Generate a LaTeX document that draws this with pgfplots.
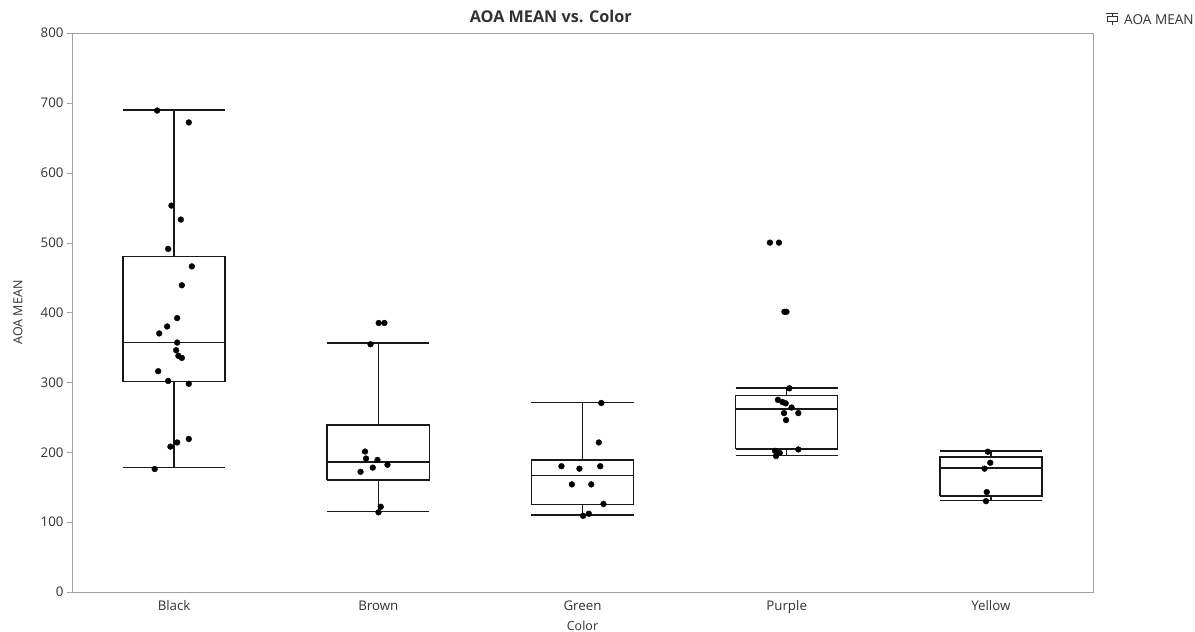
\documentclass[border=0pt]{standalone}
\usepackage{fontspec}
\setmainfont{Open Sans}
\usepackage{pgfplots}
\pgfplotsset{compat=1.18}
\definecolor{axgray}{RGB}{160,160,160}
\definecolor{txt}{RGB}{50,50,50}
% box: pos, lower whisker, q1, median, q3, upper whisker
\newcommand{\mybox}[6]{%
  \edef\temp{\noexpand\addplot[boxline] coordinates {(#1-0.25,#3) (#1+0.25,#3) (#1+0.25,#5) (#1-0.25,#5) (#1-0.25,#3)};
  \noexpand\addplot[boxline] coordinates {(#1-0.25,#4) (#1+0.25,#4)};
  \noexpand\addplot[boxline] coordinates {(#1,#5) (#1,#6)};
  \noexpand\addplot[boxline] coordinates {(#1,#3) (#1,#2)};
  \noexpand\addplot[boxline] coordinates {(#1-0.25,#6) (#1+0.25,#6)};
  \noexpand\addplot[boxline] coordinates {(#1-0.25,#2) (#1+0.25,#2)};}%
  \temp}
\begin{document}
\begin{tikzpicture}
\path[use as bounding box] (-72pt,-40pt) rectangle (1123pt,592pt);
\begin{axis}[
  scale only axis, width=1021pt, height=559pt,
  xmin=-0.5, xmax=4.5, ymin=0, ymax=800,
  xtick={0,1,2,3,4}, xticklabels={Black,Brown,Green,Purple,Yellow},
  ytick={0,100,...,800},
  ytick pos=left,
  major x tick style={draw=none},
  tick align=outside, major tick length=5pt,
  y tick style={axgray},
  axis line style={axgray},
  tick label style={font=\fontsize{13.3}{15}\selectfont, text=txt},
  /pgf/number format/assume math mode=true,
  ylabel={AOA MEAN}, xlabel={Color},
  label style={font=\fontsize{12.5}{14}\selectfont, text=txt},
  ylabel style={at={(axis description cs:-0.053,0.5)}, anchor=center},
  xlabel style={at={(axis description cs:0.5,-0.061)}, anchor=center},
  title={AOA MEAN vs. Color},
  title style={font=\fontsize{16.2}{18}\selectfont\bfseries, text=txt, at={(axis description cs:0.469,1.018)}, anchor=center},
  boxline/.style={black!90, line width=1.5pt, solid, mark=none},
]
\mybox{0}{178}{301}{357}{480}{690}
\mybox{1}{115}{160}{186}{239}{356}
\mybox{2}{110}{125}{166.5}{189}{271}
\mybox{3}{195.6}{205}{262}{281}{292}
\mybox{4}{131}{137.5}{177.5}{193.5}{202}
\addplot[only marks, mark=*, mark size=2.9pt, black] table {
x y
-0.083 689
0.072 672
-0.013 553
0.033 533
-0.029 491
0.087 466
0.038 439
0.015 392
-0.034 380
-0.073 370
0.015 357
0.010 346
0.021 338
0.038 335
-0.078 316
-0.029 302
0.072 298
0.072 219
0.015 214
-0.018 208
-0.095 176
1.002 385
1.030 385
0.962 354.5
0.935 201
0.940 191
0.996 189
1.045 182
0.973 178
0.913 172
1.012 122
1.001 114
2.092 270.5
2.080 214
1.897 180
1.985 176.5
2.087 180
1.948 154
2.043 154
2.103 126
2.031 112
2.003 109
2.918 500
2.962 500
2.989 401
2.999 401
3.013 291.5
2.957 275
2.979 272
2.995 270
3.024 264
2.987 256
3.057 256
2.997 246
3.057 204
2.943 202
2.957 198.5
2.948 194.6
2.966 199
3.985 200.8
3.997 185
3.969 176.5
3.980 143
3.976 130
};
\end{axis}
% legend
\draw[black!80, line width=1pt] (1034pt,578pt) -- (1046pt,578pt);
\draw[black!80, line width=1pt] (1040pt,578pt) -- (1040pt,567pt);
\draw[black!80, line width=1pt, fill=white] (1035pt,570pt) rectangle (1045pt,575pt);
\node[anchor=west, font=\fontsize{13.6}{15}\selectfont, text=txt, inner sep=0pt] at (1052pt,572pt) {AOA MEAN};
\end{tikzpicture}
\end{document}
